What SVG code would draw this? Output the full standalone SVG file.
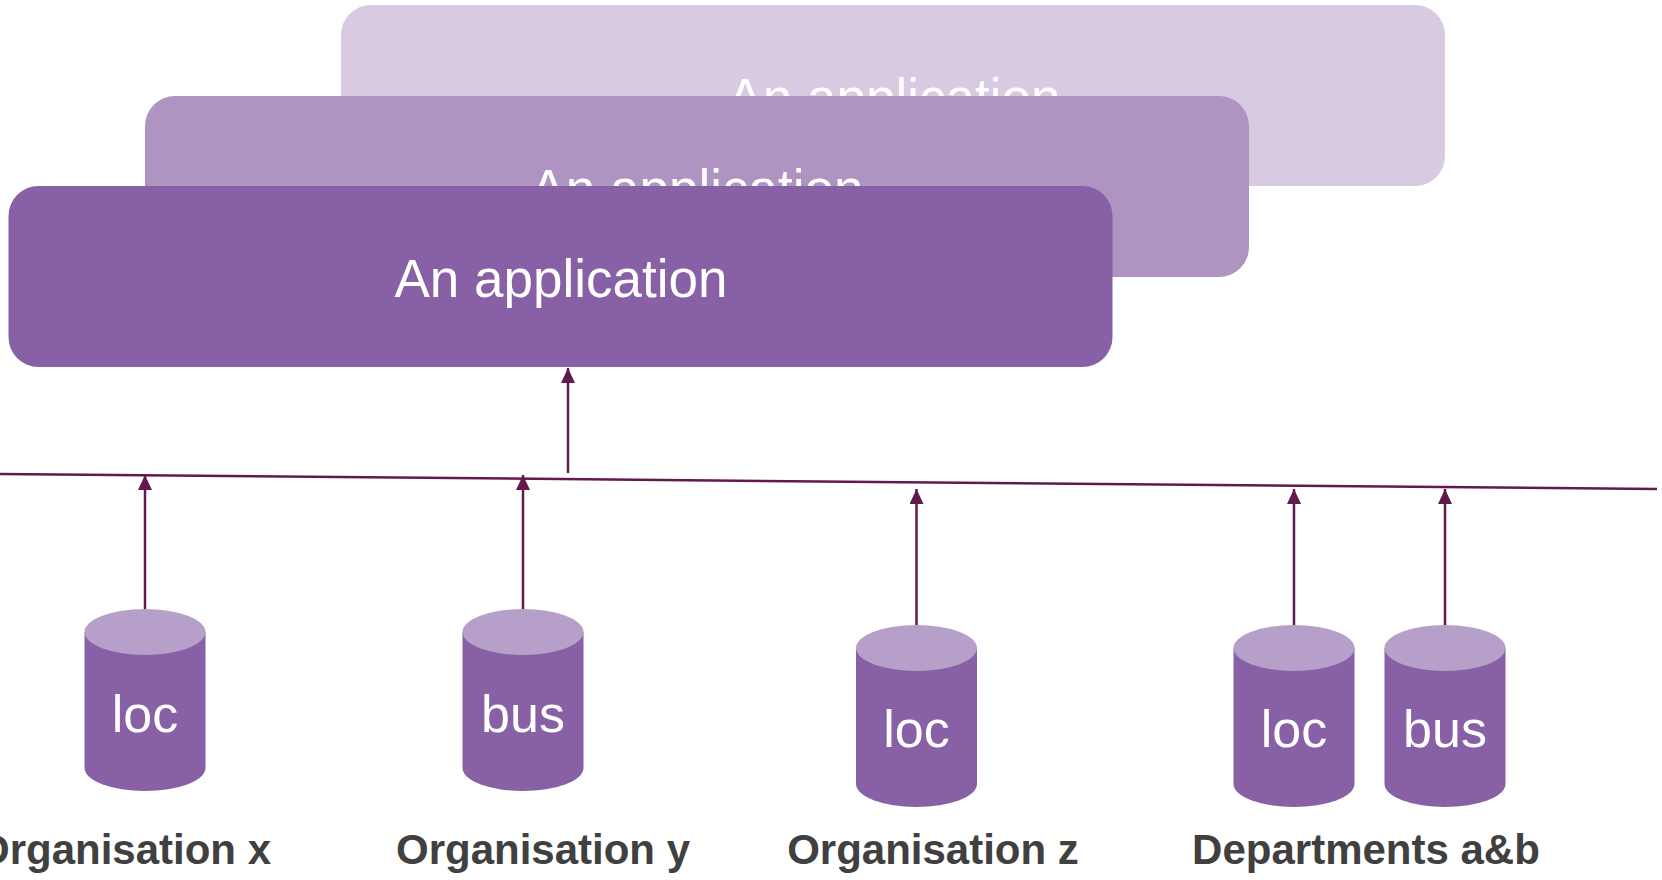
<svg xmlns="http://www.w3.org/2000/svg" width="1662" height="880" viewBox="0 0 1662 880">
  <style>
    .app-text { font-family: "Liberation Sans", Arial, sans-serif; font-size: 53px; fill: #ffffff; text-anchor: middle; }
    .db-text { font-family: "Liberation Sans", Arial, sans-serif; font-size: 52px; fill: #ffffff; text-anchor: middle; }
    .org-text { font-family: "Liberation Sans", Arial, sans-serif; font-size: 42px; font-weight: bold; fill: #404040; text-anchor: middle; }
    .db-body { fill: #8760A5; }
    .db-top { fill: #B6A0C9; }
    .link { stroke: #621A4C; stroke-width: 2.5; fill: none; }
  </style>
  <defs>
    <marker id="arrow" viewBox="0 0 15 14" refX="15" refY="7" markerWidth="15" markerHeight="14" markerUnits="userSpaceOnUse" orient="auto">
      <path d="M0,0 L15,7 L0,14 Z" fill="#621A4C"/>
    </marker>
    <g id="cyl">
      <path class="db-body" d="M-60.5,0 V136 A60.5,23 0 0 0 60.5,136 V0 Z"/>
      <ellipse class="db-top" cx="0" cy="0" rx="60.5" ry="23"/>
    </g>
  </defs>

  <rect width="1662" height="880" fill="#ffffff"/>

  <!-- stacked application layers, back to front -->
  <g id="app-back">
    <rect x="341" y="5" width="1104" height="181" rx="30" ry="30" fill="#D8CAE1"/>
    <text class="app-text" x="894" y="116">An application</text>
  </g>
  <g id="app-middle">
    <rect x="145" y="96" width="1104" height="181" rx="30" ry="30" fill="#AF94C1"/>
    <text class="app-text" x="697" y="207">An application</text>
  </g>
  <g id="app-front">
    <rect x="8.5" y="186" width="1104" height="181" rx="30" ry="30" fill="#8760A5"/>
    <text class="app-text" x="561" y="297">An application</text>
  </g>

  <!-- connectors -->
  <g id="connectors">
    <line class="link" x1="0" y1="474" x2="1657" y2="489"/>
    <line class="link" x1="568" y1="473" x2="568" y2="368" marker-end="url(#arrow)"/>
    <line class="link" x1="145" y1="609" x2="145" y2="475" marker-end="url(#arrow)"/>
    <line class="link" x1="523" y1="609" x2="523" y2="475" marker-end="url(#arrow)"/>
    <line class="link" x1="916.5" y1="625" x2="916.5" y2="489" marker-end="url(#arrow)"/>
    <line class="link" x1="1294" y1="625" x2="1294" y2="489" marker-end="url(#arrow)"/>
    <line class="link" x1="1445" y1="625" x2="1445" y2="489" marker-end="url(#arrow)"/>
  </g>

  <!-- data stores -->
  <g id="db-org-x">
    <use href="#cyl" x="145" y="632"/>
    <text class="db-text" x="145" y="732">loc</text>
  </g>
  <g id="db-org-y">
    <use href="#cyl" x="523" y="632"/>
    <text class="db-text" x="523" y="732">bus</text>
  </g>
  <g id="db-org-z">
    <use href="#cyl" x="916.5" y="648"/>
    <text class="db-text" x="916.5" y="747">loc</text>
  </g>
  <g id="db-dept-a">
    <use href="#cyl" x="1294" y="648"/>
    <text class="db-text" x="1294" y="747">loc</text>
  </g>
  <g id="db-dept-b">
    <use href="#cyl" x="1445" y="648"/>
    <text class="db-text" x="1445" y="747">bus</text>
  </g>

  <!-- owner labels -->
  <g id="labels">
    <text class="org-text" x="124" y="864">Organisation x</text>
    <text class="org-text" x="543" y="864">Organisation y</text>
    <text class="org-text" x="933" y="864">Organisation z</text>
    <text class="org-text" x="1366" y="864">Departments a&amp;b</text>
  </g>
</svg>
